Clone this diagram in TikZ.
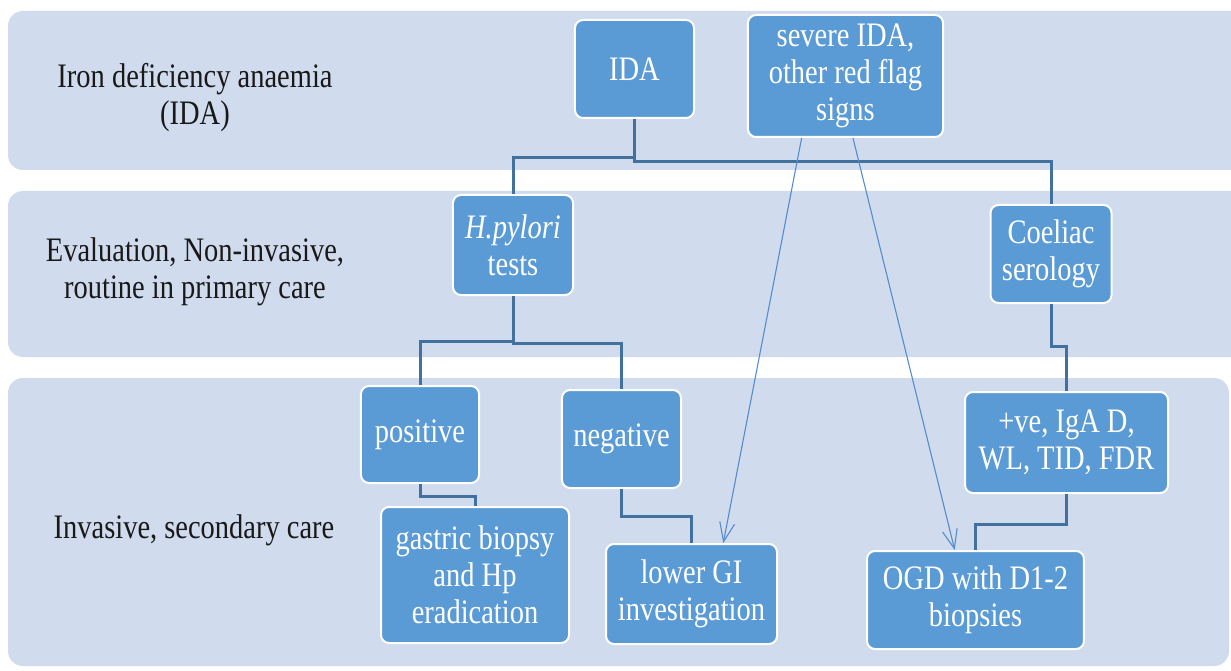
\documentclass[tikz,border=0pt]{standalone}
\usepackage{fontspec}
\setmainfont{Liberation Serif}
\usepackage{tikz}
\usetikzlibrary{arrows.meta, calc, positioning}
\definecolor{bandfill}{RGB}{208,219,237}
\definecolor{boxfill}{RGB}{91,155,213}
\definecolor{linkcol}{RGB}{65,113,156}
\definecolor{arrowcol}{RGB}{84,141,205}

\begin{document}
\begin{tikzpicture}[x=1pt, y=-1pt, font=\fontsize{34.3}{37}\selectfont,
    band/.style={fill=bandfill, rounded corners=15pt},
    squeeze/.style={xscale=0.83, transform shape},
    rowlabel/.style={squeeze, align=center, text=black!90},
    stage/.style={squeeze, draw=white, line width=2pt, fill=boxfill, rounded corners=8pt, text=white, align=center, inner sep=2pt},
    link/.style={draw=linkcol, line width=3pt},
    jump/.style={draw=arrowcol, line width=1.1pt, -{Straight Barb[length=19pt, width=15pt]}}]
      \useasboundingbox (0,0) rectangle (1231,671);
      \clip (0,0) rectangle (1231,671);
      \fill[band] (8,11) rectangle (1260,170);
      \fill[band] (8,191) rectangle (1260,357);
      \fill[band] (8,378) rectangle (1229,666);

      \node[rowlabel] (rowida) at (195,98) {Iron deficiency anaemia\\(IDA)};
      \node[rowlabel] (rowprimary) at (195,272) {Evaluation, Non-invasive,\\routine in primary care};
      \node[rowlabel] (rowsecondary) at (194,530) {Invasive, secondary care};

      \node[stage, minimum width=143.4pt, minimum height=98pt] (ida) at (634.5,69) {IDA};
      \node[stage, minimum width=235pt, minimum height=122pt] (severe) at (845.5,76) {severe IDA,\\other red flag\\signs};
      \node[stage, minimum width=144.6pt, minimum height=100pt] (hp) at (513,245) {\textit{H.pylori}\\tests};
      \node[stage, minimum width=145.8pt, minimum height=98pt] (coel) at (1051,254) {Coeliac\\serology};
      \node[stage, minimum width=142.2pt, minimum height=97pt] (pos) at (420,434.5) {positive};
      \node[stage, minimum width=143.4pt, minimum height=98pt] (neg) at (621.5,439) {negative};
      \node[stage, minimum width=244.6pt, minimum height=101pt] (ve) at (1066.5,442.5) {+ve, IgA D,\\WL, TID, FDR};
      \node[stage, minimum width=226.5pt, minimum height=136pt] (gastric) at (475,575) {gastric biopsy\\and Hp\\eradication};
      \node[stage, minimum width=206pt, minimum height=100pt] (lowgi) at (691.5,594) {lower GI\\investigation};
      \node[stage, minimum width=261.4pt, minimum height=98pt] (ogd) at (975.5,600) {OGD with D1-2\\biopsies};

      \draw[link] (ida.south) -- ++(0,39) -| (hp.north);
      \draw[link] (ida.south) -- ++(0,43) -| (coel.north);
      \draw[link] (hp.south) -- ++(0,45) -| (pos.north);
      \draw[link] (hp.south) -- ++(0,47) -| (neg.north);
      \draw[link] (coel.south) -- ++(0,42) -| (ve.north);
      \draw[link] (pos.south) -- ++(0,12) -| (gastric.north);
      \draw[link] (neg.south) -- ++(0,27) -| (lowgi.north);
      \draw[link] (ve.south) -- ++(0,30) -| (ogd.north);

      \coordinate (flagleft) at ($(severe.south west)!0.277!(severe.south east)$);
      \coordinate (flagright) at ($(severe.south west)!0.538!(severe.south east)$);
      \coordinate (lowgitop) at ($(lowgi.north west)!0.684!(lowgi.north east)$);
      \coordinate (ogdtop) at ($(ogd.north west)!0.405!(ogd.north east)$);
      \draw[jump] (flagleft) -- (lowgitop);
      \draw[jump] (flagright) -- (ogdtop);
\end{tikzpicture}
\end{document}
